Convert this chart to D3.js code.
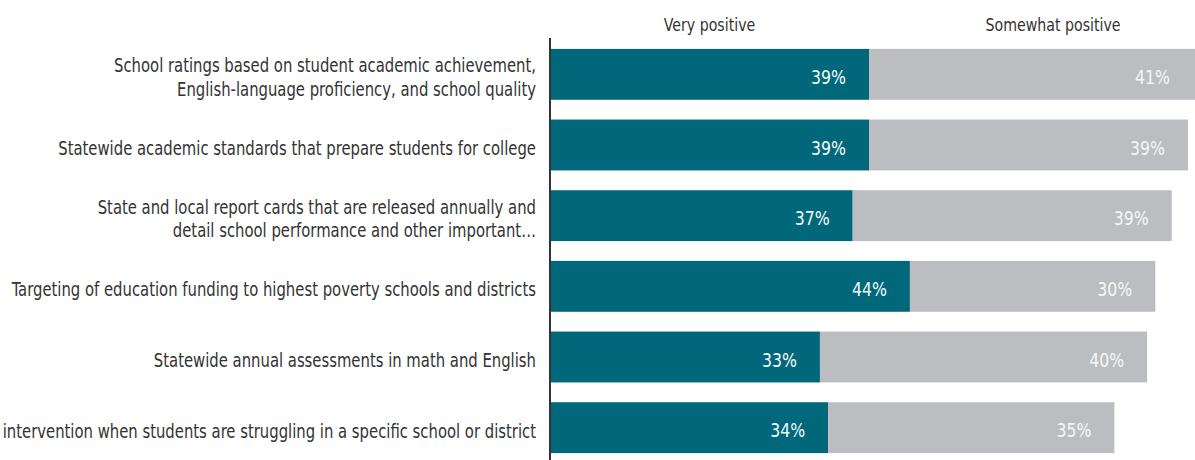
<!DOCTYPE html>
<html>
<head>
<meta charset="utf-8">
<script src="https://cdn.jsdelivr.net/npm/d3@7"></script>
<style>
  body { margin: 0; background: #fff; overflow: hidden; }
  text { font-family: "DejaVu Sans Condensed", "Liberation Sans Narrow", sans-serif; }
</style>
</head>
<body>
<svg id="chart" width="1195" height="460"></svg>
<script>
// categories, one label per bar (split on lines)
var categories = [
    ["School ratings based on student academic achievement,", "English-language proficiency, and school quality"],
    ["Statewide academic standards that prepare students for college"],
    ["State and local report cards that are released annually and", "detail school performance and other important\u2026"],
    ["Targeting of education funding to highest poverty schools and districts"],
    ["Statewide annual assessments in math and English"],
    ["intervention when students are struggling in a specific school or district"]
];
var series = ["Very positive", "Somewhat positive"];
var veryPositive = [39, 39, 37, 44, 33, 34];
var somewhatPositive = [41, 39, 39, 30, 40, 35];
var colors = ["#00687a", "#bcbdc0"];

var svg = d3.select("#chart");
var width = 1195, height = 460;
var squeeze = 0.868;   // condensed look of the original type

var x = d3.scaleLinear()
        .domain([0, 100])
        .range([550, 1368]);

var y = d3.scaleBand()
        .domain(d3.range(categories.length))
        .range([39, 463])
        .paddingInner(0.28)
        .paddingOuter(0.14);

var rows = categories.map(function (c, i) {
    return { label: c, very: veryPositive[i], some: somewhatPositive[i], i: i };
});

var layers = d3.stack().keys(["very", "some"])(rows);

// bars
var groups = svg.selectAll("g.layer")
        .data(layers)
        .join("g")
        .attr("class", "layer")
        .attr("fill", (d, k) => colors[k]);

groups.selectAll("rect")
        .data(d => d)
        .join("rect")
        .attr("x", d => x(d[0]))
        .attr("y", d => y(d.data.i))
        .attr("width", d => x(d[1]) - x(d[0]))
        .attr("height", y.bandwidth());

// value labels, right aligned inside the visible part of each segment
groups.selectAll("text")
        .data((d, k) => d.map(v => ({ v: v, k: k })))
        .join("text")
        .attr("transform", d => "translate(" + (Math.min(x(d.v[1]), width - 2) - 23) + "," +
                                (y(d.v.data.i) + y.bandwidth() / 2 + 9.5) + ") scale(0.875,1)")
        .attr("text-anchor", "end")
        .attr("fill", d => d.k == 0 ? "#f4f8f9" : "#f6f6f6")
        .style("font-size", "20px")
        .text(d => (d.v[1] - d.v[0]) + "%");

// category labels
var labels = svg.append("g")
        .selectAll("text")
        .data(rows)
        .join("text")
        .attr("transform", d => "translate(536," + (y(d.i) + y.bandwidth() / 2 + 10 - (d.label.length - 1) * 12) +
                                ") scale(" + squeeze + ",1)")
        .attr("text-anchor", "end")
        .attr("fill", "#333333")
        .style("font-size", "19px");

labels.selectAll("tspan")
        .data(d => d.label.map((t, j) => ({ t: t, j: j })))
        .join("tspan")
        .attr("x", 0)
        .attr("y", d => d.j * 23.5)
        .text(d => d.t);

// series headers above the columns
var headerPos = [19.5, 61.5];
svg.append("g")
        .selectAll("text")
        .data(series)
        .join("text")
        .attr("transform", (d, k) => "translate(" + x(headerPos[k]) + ",31) scale(0.875,1)")
        .attr("text-anchor", "middle")
        .attr("fill", "#333333")
        .style("font-size", "18px")
        .text(d => d);

// vertical baseline
svg.append("line")
        .attr("x1", x(0))
        .attr("x2", x(0))
        .attr("y1", 38)
        .attr("y2", height)
        .attr("stroke", "#333333")
        .attr("stroke-width", 2);
</script>
</body>
</html>
